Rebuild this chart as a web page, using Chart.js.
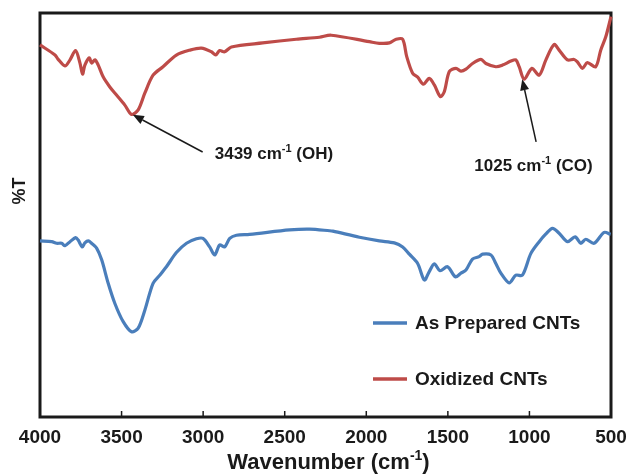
<!DOCTYPE html>
<html>
<head>
<meta charset="utf-8">
<script src="https://cdn.jsdelivr.net/npm/chart.js@4/dist/chart.umd.min.js"></script>
<style>
  html, body { margin: 0; padding: 0; background: #ffffff; }
  #wrap { width: 627px; height: 475px; }
</style>
</head>
<body>
<div id="wrap"><canvas id="c" width="627" height="475"></canvas></div>
<script>
// ---------- DATA ----------
const seriesNames = ["As Prepared CNTs", "Oxidized CNTs"];
const tickValues = [4000, 3500, 3000, 2500, 2000, 1500, 1000, 500];

// Oxidized CNTs (red)
const oxWavenumber = [4000, 3908, 3890, 3847, 3816, 3782, 3755, 3739, 3725, 3698, 3684, 3663, 3643, 3613, 3572, 3531, 3480, 3439, 3398, 3357, 3307, 3246, 3164, 3082, 3011, 2949, 2923, 2899, 2868, 2827, 2635, 2429, 2287, 2215, 1981, 1920, 1858, 1817, 1777, 1752, 1716, 1685, 1650, 1614, 1583, 1546, 1522, 1491, 1450, 1420, 1389, 1349, 1297, 1267, 1206, 1165, 1114, 1083, 1063, 1032, 985, 940, 899, 849, 818, 767, 726, 706, 675, 645, 594, 563, 532, 500];
const oxTransmittance = [92.1, 89.6, 88.6, 86.9, 88.4, 90.7, 87.6, 84.9, 87.1, 88.9, 87.6, 88.4, 87.1, 84.2, 81.7, 79.7, 77.2, 74.9, 76.0, 80.2, 84.6, 86.7, 89.6, 90.8, 91.3, 90.4, 89.6, 90.7, 90.4, 91.6, 92.6, 93.5, 94.0, 94.5, 92.9, 92.5, 92.6, 93.5, 93.5, 89.2, 85.1, 84.1, 82.4, 83.8, 82.2, 79.3, 80.5, 85.5, 86.3, 85.6, 86.1, 87.5, 88.5, 87.5, 86.7, 87.1, 88.1, 88.4, 86.7, 83.6, 86.3, 84.6, 88.4, 92.2, 90.8, 88.4, 88.5, 87.9, 86.3, 87.7, 86.7, 90.8, 94.1, 99.1];

// As Prepared CNTs (blue)
const apWavenumber = [4000, 3928, 3898, 3867, 3847, 3816, 3782, 3766, 3741, 3725, 3704, 3684, 3653, 3622, 3582, 3541, 3490, 3439, 3398, 3357, 3307, 3266, 3225, 3164, 3102, 3041, 3001, 2960, 2929, 2899, 2868, 2837, 2796, 2715, 2470, 2348, 2225, 2205, 2042, 1920, 1828, 1777, 1736, 1685, 1644, 1614, 1583, 1548, 1502, 1454, 1420, 1389, 1349, 1308, 1287, 1236, 1206, 1175, 1124, 1083, 1043, 991, 940, 899, 859, 818, 767, 720, 685, 655, 604, 542, 502];
const apTransmittance = [43.6, 43.4, 43.0, 43.0, 42.4, 43.4, 44.4, 43.8, 42.1, 43.1, 43.6, 43.0, 41.8, 38.9, 33.1, 28.1, 23.6, 21.1, 22.0, 26.5, 33.1, 35.1, 37.2, 40.7, 43.0, 44.1, 44.2, 42.1, 40.1, 42.6, 42.1, 44.2, 45.0, 45.2, 46.3, 46.5, 46.1, 46.0, 44.5, 43.6, 43.1, 42.1, 40.3, 38.0, 33.9, 36.0, 37.9, 36.2, 37.2, 34.7, 35.6, 36.4, 39.1, 39.7, 40.3, 40.1, 38.0, 35.6, 33.2, 35.1, 35.1, 40.5, 43.4, 45.3, 46.7, 45.5, 43.4, 44.6, 43.0, 44.0, 43.0, 45.7, 45.2];

// ---------- STYLE ----------
const FONT = "'Liberation Sans', Arial, Helvetica, sans-serif";
const INK = "#1a1a1a";
const BLUE = "#4a7ebb";
const RED = "#be4b48";

function pts(xs, ys) { return xs.map((x, i) => ({ x: x, y: ys[i] })); }

// Annotations (data coordinates)
const annotations = [
  { main: "3439 cm", sup: "-1", tail: " (OH)", tip: [3431, 74.8], from: [3003, 65.6], text: [2929, 65.4] },
  { main: "1025 cm", sup: "-1", tail: " (CO)", tip: [1044, 83.6], from: [959, 68.1], text: [1338, 62.4] }
];

function drawSupText(ctx, x, y, main, sup, tail, size, align) {
  const big = "bold " + size + "px " + FONT;
  const small = "bold " + Math.round(size * 0.62) + "px " + FONT;
  ctx.font = big; const w1 = ctx.measureText(main).width; const w3 = ctx.measureText(tail).width;
  ctx.font = small; const w2 = ctx.measureText(sup).width;
  const total = w1 + w2 + w3;
  let x0 = align === "center" ? x - total / 2 : x;
  ctx.textAlign = "left"; ctx.textBaseline = "alphabetic";
  ctx.font = big; ctx.fillText(main, x0, y);
  ctx.font = small; ctx.fillText(sup, x0 + w1, y - size * 0.42);
  ctx.font = big; ctx.fillText(tail, x0 + w1 + w2, y);
}

const overlay = {
  id: "overlay",
  beforeDatasetsDraw(chart) {
    const { ctx, chartArea: a, scales: { x } } = chart;
    ctx.save();
    ctx.strokeStyle = INK;
    ctx.lineWidth = 1.5;
    tickValues.forEach(v => {
      if (v === 4000 || v === 500) return;
      const px = x.getPixelForValue(v);
      ctx.beginPath(); ctx.moveTo(px, a.bottom); ctx.lineTo(px, a.bottom - 6); ctx.stroke();
    });
    ctx.lineWidth = 3;
    ctx.strokeRect(a.left, a.top, a.right - a.left, a.bottom - a.top);
    ctx.restore();
  },
  afterDraw(chart) {
    const { ctx, chartArea: a, scales: { x, y } } = chart;
    ctx.save();
    ctx.fillStyle = INK;
    // axis title
    drawSupText(ctx, (a.left + a.right) / 2 + 3, 469, "Wavenumber (cm", "-1", ")", 22, "center");
    // y title
    ctx.save();
    ctx.translate(20, a.top + 178);
    ctx.rotate(-Math.PI / 2);
    ctx.font = "bold 18px " + FONT;
    ctx.textAlign = "center"; ctx.textBaseline = "middle";
    ctx.fillText("%T", 0, 0);
    ctx.restore();
    // annotations
    annotations.forEach(an => {
      const tx = x.getPixelForValue(an.tip[0]), ty = y.getPixelForValue(an.tip[1]);
      const fx = x.getPixelForValue(an.from[0]), fy = y.getPixelForValue(an.from[1]);
      const ang = Math.atan2(ty - fy, tx - fx);
      const hl = 11, hw = 4.5;
      const bx = tx - hl * Math.cos(ang), by = ty - hl * Math.sin(ang);
      ctx.strokeStyle = INK; ctx.lineWidth = 1.5;
      ctx.beginPath(); ctx.moveTo(fx, fy); ctx.lineTo(bx, by); ctx.stroke();
      ctx.beginPath();
      ctx.moveTo(tx, ty);
      ctx.lineTo(bx + hw * Math.sin(ang), by - hw * Math.cos(ang));
      ctx.lineTo(bx - hw * Math.sin(ang), by + hw * Math.cos(ang));
      ctx.closePath(); ctx.fill();
      const lx = x.getPixelForValue(an.text[0]), ly = y.getPixelForValue(an.text[1]);
      drawSupText(ctx, lx, ly + 6, an.main, an.sup, an.tail, 17, "left");
    });
    // legend
    const items = [
      { name: seriesNames[0], color: BLUE, yOff: 310 },
      { name: seriesNames[1], color: RED, yOff: 366 }
    ];
    items.forEach(it => {
      const ly = a.top + it.yOff;
      ctx.strokeStyle = it.color; ctx.lineWidth = 3.5;
      ctx.beginPath(); ctx.moveTo(373, ly); ctx.lineTo(407, ly); ctx.stroke();
      ctx.fillStyle = INK;
      ctx.font = "bold 19px " + FONT;
      ctx.textAlign = "left"; ctx.textBaseline = "middle";
      ctx.fillText(it.name, 415, ly + 1);
    });
    ctx.restore();
  }
};

new Chart(document.getElementById("c"), {
  type: "line",
  data: {
    datasets: [
      { label: seriesNames[0], data: pts(apWavenumber, apTransmittance), borderColor: BLUE, borderWidth: 3.2, pointRadius: 0, tension: 0.3, fill: false, clip: false },
      { label: seriesNames[1], data: pts(oxWavenumber, oxTransmittance), borderColor: RED, borderWidth: 3.2, pointRadius: 0, tension: 0.3, fill: false, clip: false }
    ]
  },
  options: {
    responsive: false,
    animation: false,
    devicePixelRatio: 1,
    layout: { padding: { left: 40, top: 13, right: 16, bottom: 0 } },
    plugins: { legend: { display: false }, tooltip: { enabled: false } },
    scales: {
      x: {
        type: "linear", reverse: true, min: 500, max: 4000,
        afterBuildTicks(s) { s.ticks = tickValues.map(v => ({ value: v })); },
        grid: { display: false, drawTicks: false },
        border: { display: false },
        ticks: { color: INK, font: { family: FONT, size: 19, weight: "bold" }, padding: 9, maxRotation: 0, autoSkip: false, callback: v => String(v) },
        afterFit(s) { s.height = 58; s.paddingLeft = 0; s.paddingRight = 0; }
      },
      y: { display: false, min: 0, max: 100 }
    }
  },
  plugins: [overlay]
});
</script>
</body>
</html>
